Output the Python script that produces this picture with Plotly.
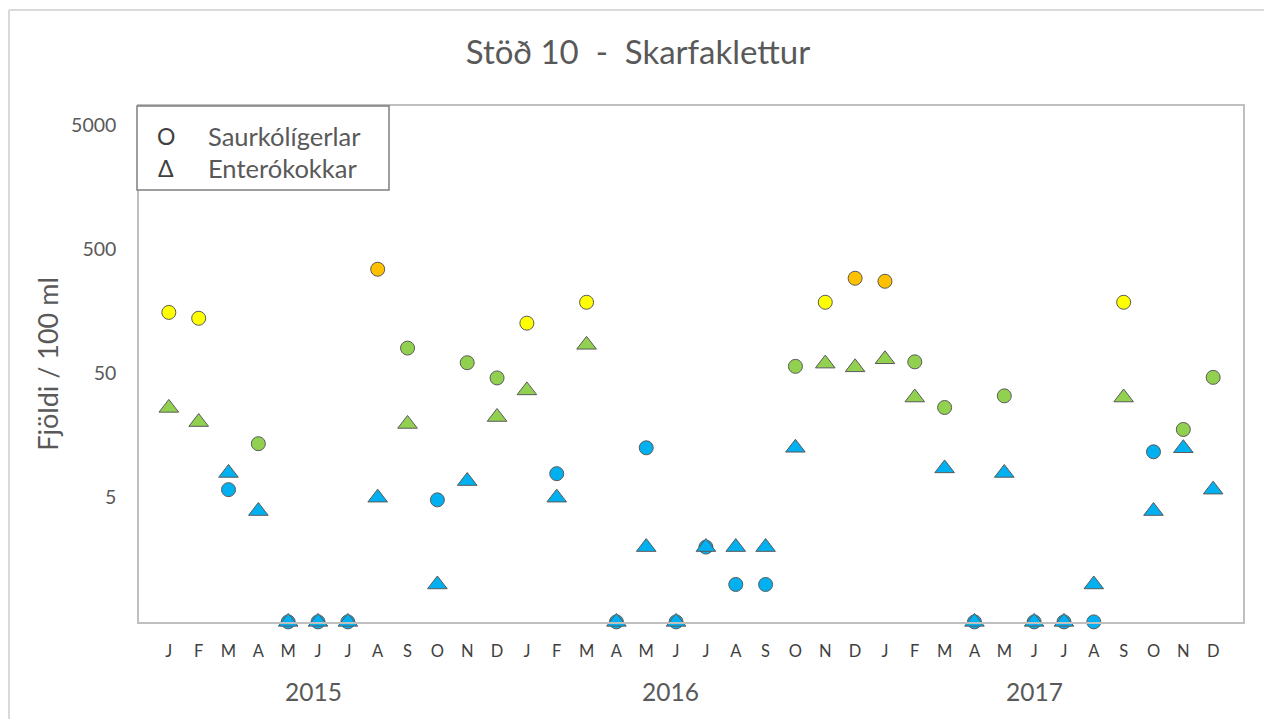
import math
import plotly.graph_objects as go

months = ["J", "F", "M", "A", "M", "J", "J", "A", "S", "O", "N", "D"] * 3
years = ["2015", "2016", "2017"]
year_pos = [5.85, 17.8, 30.0]

# Saurkólígerlar (circles), per 100 ml; 0 = below detection
saurkoli = [155, 139, 5.8, 13.6, 0, 0, 0, 345, 80, 4.8, 61, 46,
            127, 7.8, 187, 0, 12.6, 0, 2, 1, 1, 57, 187, 292,
            276, 62, 26.6, 0, 33, 0, 0, 0, 187, 11.7, 17.7, 46.5]
# Enterókokkar (triangles)
entero = [26.4, 20.3, 7.9, 3.9, 0, 0, 0, 5, 19.6, 1, 6.8, 22.3,
          36.5, 5, 85, 0, 2, 0, 2, 2, 2, 12.6, 60, 56,
          65, 32, 8.6, 0, 7.9, 0, 0, 1, 32, 3.9, 12.5, 5.8]

FLOOR = 0.5
BLUE, GREEN, YELLOW, ORANGE = "#00B0F0", "#92D050", "#FFFF00", "#FFC000"


def col_circle(v):
    if v < 13:
        return BLUE
    if v < 100:
        return GREEN
    if v < 250:
        return YELLOW
    return ORANGE


def col_tri(v):
    return BLUE if v < 15 else GREEN


x = list(range(1, len(months) + 1))
font = "Lato, Open Sans, sans-serif"
grey = "#595959"

# page offset of the plotly div (body margin) is 8px
OFF = 8
FW, FH = 1256, 711
L, T, R, B = 139 - OFF, 106 - OFF, 1243 - OFF, 622 - OFF
W, H = R - L, B - T

fig = go.Figure()
fig.add_trace(go.Scatter(
    x=x, y=[v if v > 0 else FLOOR for v in saurkoli], mode="markers",
    name="Saurkólígerlar", cliponaxis=False,
    marker=dict(symbol="circle", size=14, color=[col_circle(v) for v in saurkoli],
                line=dict(color="#5a5a5a", width=1))))
fig.add_trace(go.Scatter(
    x=x, y=[v if v > 0 else FLOOR for v in entero], mode="markers",
    name="Enterókokkar", cliponaxis=False,
    marker=dict(symbol="triangle-up", size=17, color=[col_tri(v) for v in entero],
                line=dict(color="#5a5a5a", width=1))))

fig.update_layout(
    width=FW, height=FH,
    margin=dict(l=L, r=FW - R, t=T, b=FH - B),
    paper_bgcolor="white", plot_bgcolor="white",
    showlegend=False,
    font=dict(family=font, color=grey),
    title=dict(text="Stöð 10  -  Skarfaklettur", x=(638 - OFF) / FW, xanchor="center",
               xref="container", y=1 - (52 - OFF) / FH, yanchor="middle",
               yref="container", font=dict(size=33, family=font, color=grey)),
    xaxis=dict(range=[0, 37], tickmode="array", tickvals=x, ticktext=months,
               showgrid=False, zeroline=False, showline=True, linecolor="#BFBFBF",
               linewidth=1.5, mirror=True, ticks="", ticklabelstandoff=13,
               tickfont=dict(size=16.5, color="#404040")),
    yaxis=dict(type="log", range=[math.log10(FLOOR) - 0.001, 3.852], tickmode="array",
               tickvals=[5, 50, 500, 5000], ticktext=["5", "50", "500", "5000"],
               showgrid=False, zeroline=False, showline=True, linecolor="#BFBFBF",
               linewidth=1.5, mirror=True, ticks="", ticklabelstandoff=17,
               tickfont=dict(size=19.5, color=grey),
               title=dict(text="Fjöldi / 100 ml", font=dict(size=27, color=grey),
                          standoff=5)),
)

# year labels
for xp, yr in zip(year_pos, years):
    fig.add_annotation(x=xp, y=-(691 - 622) / H, xref="x", yref="paper", text=yr,
                       showarrow=False, font=dict(size=24.5, color=grey),
                       yanchor="middle")

# legend box
fig.add_shape(type="rect", xref="paper", yref="paper",
              x0=(137 - 139) / W, x1=(389 - 139) / W,
              y0=1 - (190 - 106) / H, y1=1,
              line=dict(color="#7f7f7f", width=1.5), fillcolor="white", layer="above")
for sym, txt, yy in [("O", "Saurkólígerlar", 136), ("Δ", "Enterókokkar", 168)]:
    fig.add_annotation(x=(166 - 139) / W, y=1 - (yy - 106) / H, xref="paper", yref="paper",
                       text=sym, showarrow=False, xanchor="center", yanchor="middle",
                       font=dict(size=23, color="#404040"))
    fig.add_annotation(x=(206 - 139) / W, y=1 - (yy - 106) / H, xref="paper", yref="paper",
                       text=txt, showarrow=False, xanchor="left", yanchor="middle",
                       font=dict(size=25.5, color=grey))

# outer chart border (top and left visible)
ytop = 1 + (106 - 10) / H
fig.add_shape(type="line", xref="paper", yref="paper",
              x0=(9 - 139) / W, x1=(1272 - 139) / W, y0=ytop, y1=ytop,
              line=dict(color="#D9D9D9", width=2))
fig.add_shape(type="line", xref="paper", yref="paper",
              x0=(9 - 139) / W, x1=(9 - 139) / W, y0=ytop, y1=-(727 - 622) / H,
              line=dict(color="#D9D9D9", width=2))

fig.write_html("out.html")
